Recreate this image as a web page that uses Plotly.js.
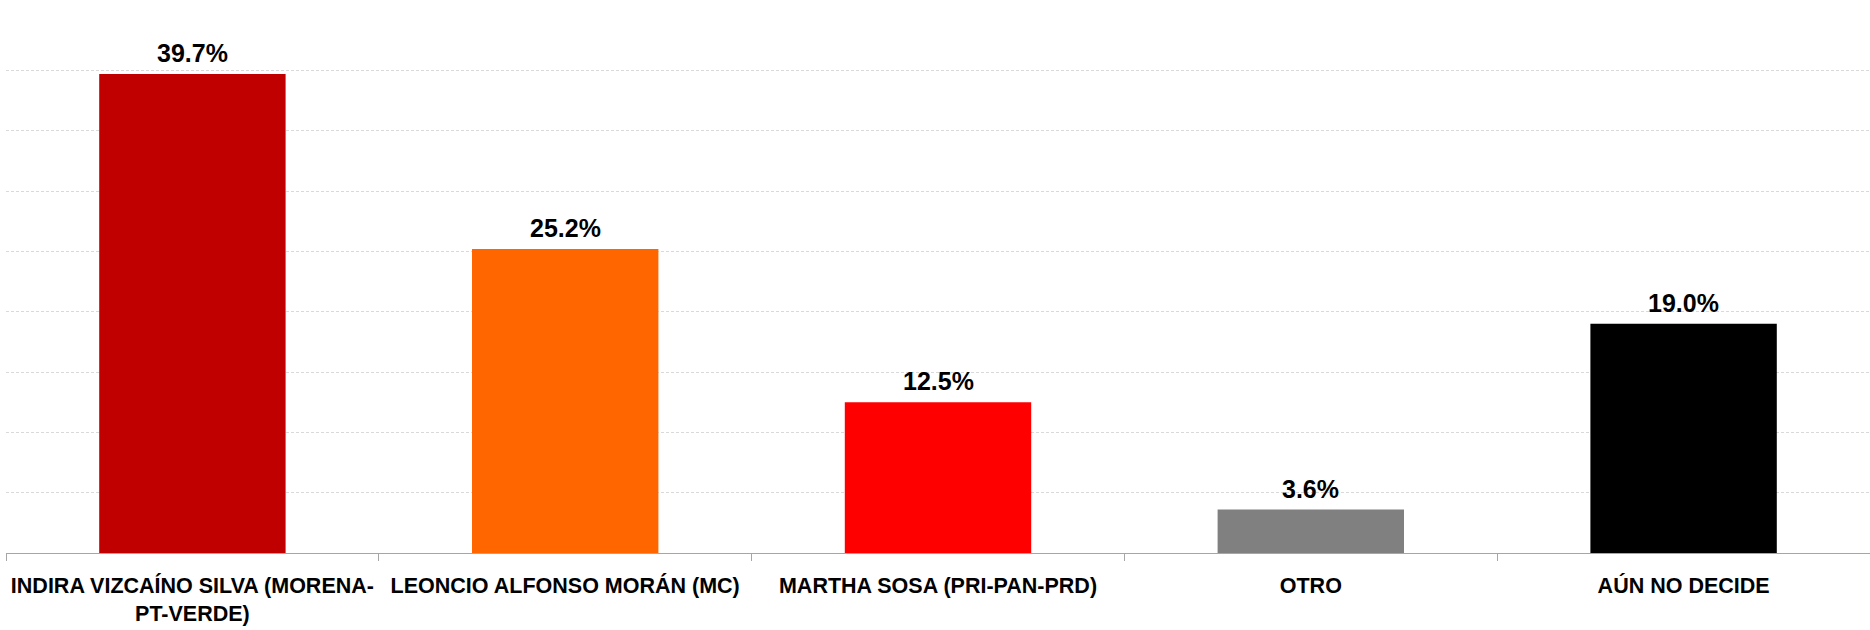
<!DOCTYPE html>
<html>
<head>
<meta charset="utf-8">
<script src="https://cdn.plot.ly/plotly-3.0.1.min.js"></script>
<style>html,body{margin:0;padding:0;background:#fff;}#chart{width:1870px;height:630px;}</style>
</head>
<body>
<div id="chart"></div>
<script>
var categories = ["INDIRA VIZCAÍNO SILVA (MORENA-<br>PT-VERDE)", "LEONCIO ALFONSO MORÁN (MC)", "MARTHA SOSA (PRI-PAN-PRD)", "OTRO", "AÚN NO DECIDE"];
var values = [39.7, 25.2, 12.5, 3.6, 19.0];
var colors = ["#C00000", "#FF6600", "#FF0000", "#808080", "#000000"];
var labels = values.map(function(v){ return v.toFixed(1) + "%"; });

var trace = {
  type: "bar",
  x: categories,
  y: values,
  width: 0.5,
  marker: {color: colors},
  hoverinfo: "none"
};

var annotations = categories.map(function(c, i){
  return {
    x: c, y: values[i], text: labels[i],
    xref: "x", yref: "y",
    showarrow: false, yanchor: "bottom", yshift: 5,
    font: {family: "Liberation Sans, Arial, sans-serif", size: 25, color: "#000000", weight: "bold"}
  };
});

var layout = {
  width: 1870, height: 630,
  margin: {l: 6, r: 0, t: 10, b: 77},
  paper_bgcolor: "#ffffff",
  plot_bgcolor: "#ffffff",
  showlegend: false,
  xaxis: {
    type: "category",
    tickangle: 0,
    showline: true, linecolor: "#a6a6a6", linewidth: 1,
    ticks: "outside", tickson: "boundaries", ticklen: 7, tickcolor: "#a6a6a6",
    ticklabelstandoff: 13,
    showgrid: false,
    tickfont: {family: "Liberation Sans, Arial, sans-serif", size: 21.5, color: "#000000", weight: "bold"}
  },
  yaxis: {
    range: [0, 45], dtick: 5,
    showticklabels: false, zeroline: false,
    showgrid: true, gridcolor: "#d9d9d9", gridwidth: 1, griddash: "3px,2px",
    ticks: ""
  },
  annotations: annotations
};

Plotly.newPlot("chart", [trace], layout, {staticPlot: true});
</script>
</body>
</html>
